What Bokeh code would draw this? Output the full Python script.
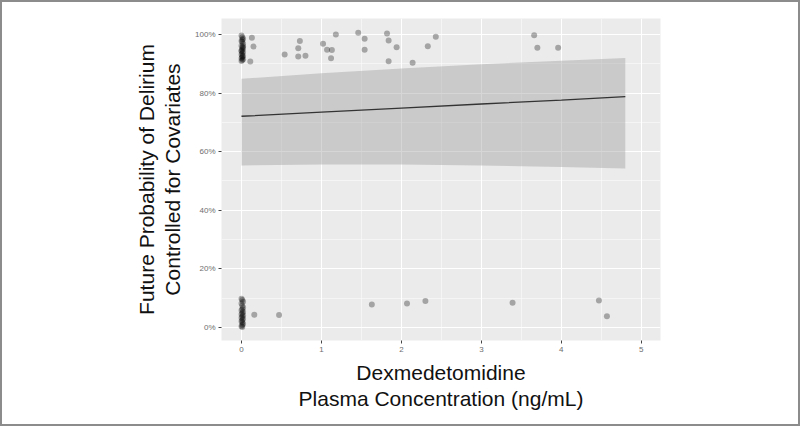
from bokeh.plotting import figure
from bokeh.models import FixedTicker, NumeralTickFormatter, Range1d
from bokeh.embed import file_html
from bokeh.resources import INLINE

# ---- data ----
x_ticks = [0, 1, 2, 3, 4, 5]
y_ticks = [0.0, 0.2, 0.4, 0.6, 0.8, 1.0]

# fitted curve and 95% band
curve_x = [0.0, 1.0, 2.0, 3.0, 4.0, 4.8]
curve_fit = [0.721, 0.735, 0.749, 0.763, 0.776, 0.788]
curve_lo = [0.553, 0.556, 0.556, 0.553, 0.548, 0.543]
curve_hi = [0.849, 0.868, 0.884, 0.899, 0.911, 0.920]

# delirium = yes (jittered near 100%)
yes_x = [0.00, 0.01, 0.02, 0.00, 0.01, 0.02, 0.00, 0.01, 0.02, 0.01, 0.00, 0.02,
         0.01, 0.00, 0.02, 0.01, 0.00, 0.02, 0.01, 0.00, 0.01, 0.02, 0.00, 0.01,
         0.13, 0.15, 0.11, 0.54, 0.73, 0.71, 0.71, 0.80, 1.02, 1.07, 1.13, 1.12,
         1.18, 1.46, 1.54, 1.54, 1.82, 1.84, 1.94, 1.84, 2.14, 2.33, 2.43,
         3.66, 3.70, 3.96]
yes_y = [0.997, 0.991, 0.986, 0.978, 0.975, 0.969, 0.962, 0.957, 0.954, 0.949, 0.943, 0.941,
         0.936, 0.932, 0.928, 0.923, 0.919, 0.916, 0.913, 0.910, 0.982, 0.960, 0.946, 0.926,
         0.989, 0.959, 0.908, 0.932, 0.978, 0.953, 0.925, 0.928, 0.969, 0.948, 0.947, 0.919,
         1.000, 1.006, 0.986, 0.948, 1.004, 0.980, 0.957, 0.909, 0.904, 0.960, 0.993,
         0.998, 0.955, 0.955]

# delirium = no (jittered near 0%)
no_x = [0.00, 0.01, 0.02, 0.00, 0.01, 0.02, 0.01, 0.00, 0.02, 0.01, 0.00, 0.02,
        0.01, 0.00, 0.02, 0.01, 0.00, 0.01, 0.02, 0.01, 0.00, 0.01,
        0.16, 0.47, 1.63, 2.07, 2.30, 3.39, 4.47, 4.57]
no_y = [0.098, 0.093, 0.087, 0.081, 0.074, 0.068, 0.062, 0.058, 0.053, 0.049, 0.045, 0.041,
        0.037, 0.033, 0.029, 0.025, 0.021, 0.017, 0.012, 0.008, 0.004, 0.001,
        0.043, 0.042, 0.078, 0.081, 0.090, 0.084, 0.092, 0.038]

p = figure(width=800, height=426, output_backend="svg", toolbar_location=None,
           x_range=Range1d(-0.25, 5.24), y_range=Range1d(-0.045, 1.055),
           min_border_left=219, min_border_right=142, min_border_top=16, min_border_bottom=88,
           styles={"border": "2px solid #8c8c8c", "box-sizing": "border-box"})

p.background_fill_color = "#EBEBEB"
p.border_fill_color = "white"
p.outline_line_color = None

p.varea(x=curve_x, y1=curve_lo, y2=curve_hi, fill_color="#999999", fill_alpha=0.4)
p.line(x=curve_x, y=curve_fit, line_color="#333333", line_width=1.3)
p.scatter(x=yes_x, y=yes_y, size=6, fill_color="black", fill_alpha=0.3,
          line_color=None)
p.scatter(x=no_x, y=no_y, size=6, fill_color="black", fill_alpha=0.3,
          line_color=None)

p.xaxis.ticker = FixedTicker(ticks=x_ticks, minor_ticks=[0.5, 1.5, 2.5, 3.5, 4.5])
p.yaxis.ticker = FixedTicker(ticks=y_ticks, minor_ticks=[0.1, 0.3, 0.5, 0.7, 0.9])
p.yaxis.formatter = NumeralTickFormatter(format="0%")

for ax in (p.xaxis, p.yaxis):
    ax.axis_line_color = None
    ax.major_tick_line_color = "#444444"
    ax.major_tick_in = 0
    ax.major_tick_out = 3
    ax.minor_tick_line_color = None
    ax.major_label_text_font = "Liberation Sans"
    ax.major_label_text_font_size = "8px"
    ax.major_label_text_color = "#6e6e6e"
    ax.major_label_standoff = 2
    ax.axis_label_text_font = "Liberation Sans"
    ax.axis_label_text_font_size = "21px"
    ax.axis_label_text_font_style = "normal"
    ax.axis_label_text_color = "#111111"
    ax.axis_label_text_line_height = 1.15

p.xaxis.axis_label = "Dexmedetomidine\nPlasma Concentration (ng/mL)"
p.yaxis.axis_label = "Future Probability of Delirium\nControlled for Covariates"
p.xaxis.axis_label_standoff = 6
p.yaxis.axis_label_standoff = 8

p.xgrid.grid_line_color = "white"
p.ygrid.grid_line_color = "white"
p.xgrid.grid_line_width = 1.1
p.ygrid.grid_line_width = 1.1
p.xgrid.minor_grid_line_color = "white"
p.ygrid.minor_grid_line_color = "white"
p.xgrid.minor_grid_line_width = 0.5
p.ygrid.minor_grid_line_width = 0.5

open("out.html", "w").write(file_html(p, INLINE))
